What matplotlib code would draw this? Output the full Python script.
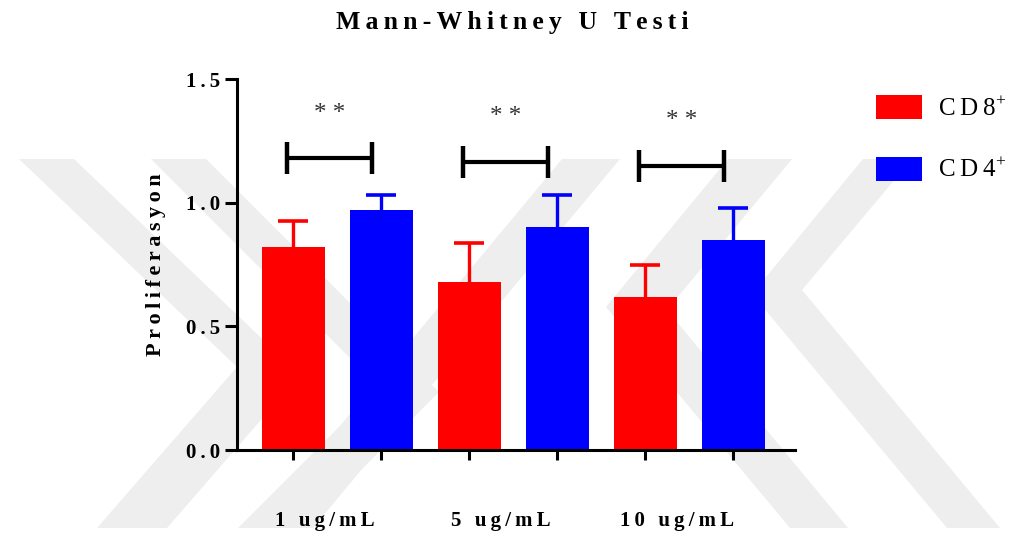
import numpy as np
import matplotlib.pyplot as plt
from matplotlib.patches import Patch, Polygon

# ölçüm değerleri (ortalama ve üst hata)
groups = ['1 ug/mL', '5 ug/mL', '10 ug/mL']
cd8_mean = [0.82, 0.68, 0.62]
cd8_err = [0.105, 0.155, 0.13]
cd4_mean = [0.97, 0.90, 0.85]
cd4_err = [0.062, 0.13, 0.13]
series_names = ['CD8', 'CD4']
bracket_y = [1.18, 1.165, 1.15]
stars = ['* *', '* *', '* *']

SERIF = ['Liberation Serif', 'DejaVu Serif']
plt.rcParams['font.family'] = SERIF
plt.rcParams['mathtext.fontset'] = 'custom'
plt.rcParams['mathtext.rm'] = 'Liberation Serif'


def spaced(s):
    # harfler arasına ince boşluk
    return '\u2009'.join(s)


def draw_watermark(fig):
    W, H = 1010, 534
    shapes = [
        [(19, 159), (74, 159), (300, 375), (167, 528), (97, 528), (237, 367)],
        [(151, 159), (206, 159), (439, 392), (303, 528), (238, 528), (379, 387)],
        [(863, 159), (912, 159), (802, 290), (1000, 528), (947, 528), (752, 294)],
        [(728, 159), (792, 159), (667, 310), (848, 528), (790, 528), (606, 307)],
        [(562, 159), (620, 159), (313, 528), (255, 528)],
    ]
    for pts in shapes:
        xy = [(x / W, 1 - y / H) for x, y in pts]
        fig.add_artist(Polygon(xy, closed=True, transform=fig.transFigure,
                               facecolor='#eeeeee', edgecolor='none', zorder=-5))


def bars_with_err(ax, xpos, mean, err, color):
    ax.bar(xpos, mean, 0.36, color=color, zorder=2)
    top = np.add(mean, err)
    # sadece yukarı doğru hata çubuğu
    ax.vlines(xpos, mean, top, color=color, lw=2.4, zorder=3)
    ax.plot(xpos, top, ls='none', marker='_', markersize=21, mew=2.6,
            color=color, zorder=3)


fig = plt.figure(figsize=(10.1, 5.34), dpi=100)
draw_watermark(fig)
ax = fig.add_axes([0.2347, 0.1573, 0.5525, 0.6947])
ax.patch.set_alpha(0)

x = np.arange(len(groups))
bars_with_err(ax, x - 0.25, cd8_mean, cd8_err, '#ff0000')
bars_with_err(ax, x + 0.25, cd4_mean, cd4_err, '#0000ff')

# anlamlılık çizgileri
for g, yb, s in zip(x, bracket_y, stars):
    c = g - 0.045
    ax.plot([c - 0.24, c + 0.24], [yb, yb], color='black', lw=3, solid_capstyle='butt')
    for xe in (c - 0.24, c + 0.24):
        ax.plot([xe, xe], [yb - 0.065, yb + 0.065], color='black', lw=3.2,
                solid_capstyle='butt')
    ax.text(c, yb + 0.18, s, ha='center', va='center', fontsize=18,
            color='#333333')

ax.set_xlim(-0.5696, 2.601)
ax.set_ylim(0, 1.5)

for side in ('top', 'right'):
    ax.spines[side].set_visible(False)
for side in ('left', 'bottom'):
    ax.spines[side].set_linewidth(2.2)

ax.set_yticks([0, 0.5, 1.0, 1.5])
ax.set_yticklabels([spaced(f'{v:.1f}') for v in [0, 0.5, 1.0, 1.5]],
                   fontweight='bold', fontsize=15)
ax.tick_params(axis='y', length=8.5, width=2.2, pad=4)

ax.set_xticks(np.concatenate([x - 0.25, x + 0.25]))
ax.set_xticklabels([])
ax.tick_params(axis='x', which='major', length=7.5, width=2.2)
ax.set_xticks(x - 0.07, minor=True)
ax.set_xticklabels([spaced(g) for g in groups], minor=True, fontweight='bold',
                   fontsize=15)
ax.tick_params(axis='x', which='minor', length=0, pad=44)

ax.set_ylabel(spaced('Proliferasyon'), fontweight='bold', fontsize=16, labelpad=14)

fig.text(0.507, 0.958, spaced('Mann-Whitney U Testi'), ha='center', va='center',
         fontsize=18.5, fontweight='bold')

handles = [Patch(facecolor='#ff0000', edgecolor='none'),
           Patch(facecolor='#0000ff', edgecolor='none')]
labels = [spaced(n) + '$^{+}$' for n in series_names]
fig.legend(handles, labels, loc='upper left', bbox_to_anchor=(0.867, 0.822),
           frameon=False, fontsize=18, handlelength=1.85, handleheight=1.1,
           labelspacing=1.45, handletextpad=0.65, borderpad=0, borderaxespad=0)

fig.savefig('out.png', dpi=100)
